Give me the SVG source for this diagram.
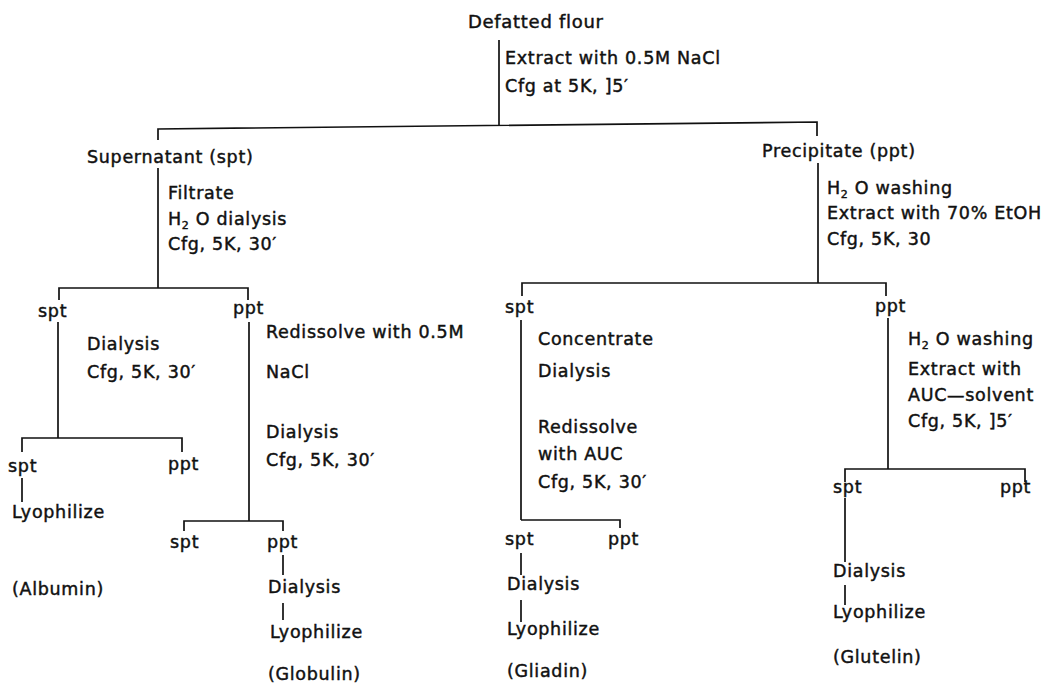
<svg xmlns="http://www.w3.org/2000/svg" width="1052" height="684" viewBox="0 0 1052 684">
<style>
text{font-family:"DejaVu Sans","Liberation Sans",sans-serif;font-size:17.5px;letter-spacing:0.7px;fill:#111;stroke:#111;stroke-width:0.45px}
.big{font-size:18px}
.sub{font-size:11px}
#connectors line,#connectors polyline{stroke:#111;stroke-width:1.7;fill:none}
</style>
<rect width="1052" height="684" fill="#fff"/>
<g id="connectors">
<line x1="499" y1="40" x2="499" y2="125"/>
<polyline points="158,140 158,129 817,122 817,136"/>
<line x1="158" y1="168" x2="158" y2="288"/>
<polyline points="59,300 59,288 248,288 248,300"/>
<line x1="58" y1="322" x2="58" y2="438"/>
<polyline points="22,452 22,438 182,438 182,452"/>
<line x1="22" y1="478" x2="22" y2="502"/>
<line x1="249" y1="322" x2="249" y2="521"/>
<polyline points="184,531 184,521 283,521 283,531"/>
<line x1="283" y1="555" x2="283" y2="575"/>
<line x1="283" y1="603" x2="283" y2="620"/>
<line x1="818" y1="163" x2="818" y2="283"/>
<polyline points="522,296 522,283 886,283 886,296"/>
<line x1="521" y1="320" x2="521" y2="520"/>
<polyline points="521,520 620,520 620,528"/>
<line x1="521" y1="553" x2="521" y2="575"/>
<line x1="521" y1="600" x2="521" y2="622"/>
<line x1="888" y1="318" x2="888" y2="469"/>
<polyline points="845,482 845,469 1025,469 1025,482"/>
<line x1="845" y1="498" x2="845" y2="562"/>
<line x1="845" y1="585" x2="845" y2="605"/>
</g>
<g id="flour"><text class="big" x="468" y="28">Defatted flour</text></g>
<g id="step1"><text x="505" y="64">Extract with 0.5M NaCl</text><text x="505" y="92">Cfg at 5K, ]5′</text></g>
<g id="supernatant"><text x="87" y="163">Supernatant (spt)</text></g>
<g id="step2"><text x="168" y="199">Filtrate</text><text x="168" y="225">H<tspan class="sub" dy="4">2</tspan><tspan dy="-4"> O dialysis</tspan></text><text x="168" y="250">Cfg, 5K, 30′</text></g>
<g id="precipitate"><text x="762" y="157">Precipitate (ppt)</text></g>
<g id="step3"><text x="827" y="194">H<tspan class="sub" dy="4">2</tspan><tspan dy="-4"> O washing</tspan></text><text x="827" y="219">Extract with 70% EtOH</text><text x="827" y="245">Cfg, 5K, 30</text></g>
<g id="spt-a"><text x="38" y="317">spt</text></g>
<g id="step4"><text x="87" y="350">Dialysis</text><text x="87" y="378">Cfg, 5K, 30′</text></g>
<g id="ppt-a"><text x="233" y="314">ppt</text></g>
<g id="step5"><text x="266" y="338">Redissolve with 0.5M</text><text x="266" y="378">NaCl</text><text x="266" y="438">Dialysis</text><text x="266" y="466">Cfg, 5K, 30′</text></g>
<g id="spt-b"><text x="8" y="472">spt</text></g>
<g id="ppt-b"><text x="168" y="470">ppt</text></g>
<g id="albumin"><text x="12" y="518">Lyophilize</text><text x="12" y="595">(Albumin)</text></g>
<g id="spt-c"><text x="170" y="548">spt</text></g>
<g id="ppt-c"><text x="267" y="548">ppt</text></g>
<g id="globulin"><text x="268" y="593">Dialysis</text><text x="270" y="638">Lyophilize</text><text x="268" y="680">(Globulin)</text></g>
<g id="spt-d"><text x="505" y="313">spt</text></g>
<g id="step6"><text x="538" y="345">Concentrate</text><text x="538" y="377">Dialysis</text><text x="538" y="433">Redissolve</text><text x="538" y="460">with AUC</text><text x="538" y="488">Cfg, 5K, 30′</text></g>
<g id="spt-e"><text x="505" y="545">spt</text></g>
<g id="ppt-e"><text x="608" y="545">ppt</text></g>
<g id="gliadin"><text x="507" y="590">Dialysis</text><text x="507" y="635">Lyophilize</text><text x="507" y="677">(Gliadin)</text></g>
<g id="ppt-d"><text x="875" y="312">ppt</text></g>
<g id="step7"><text x="908" y="345">H<tspan class="sub" dy="4">2</tspan><tspan dy="-4"> O washing</tspan></text><text x="908" y="375">Extract with</text><text x="908" y="401">AUC—solvent</text><text x="908" y="427">Cfg, 5K, ]5′</text></g>
<g id="spt-f"><text x="833" y="493">spt</text></g>
<g id="ppt-f"><text x="1000" y="493">ppt</text></g>
<g id="glutelin"><text x="833" y="577">Dialysis</text><text x="833" y="618">Lyophilize</text><text x="833" y="663">(Glutelin)</text></g>
</svg>
